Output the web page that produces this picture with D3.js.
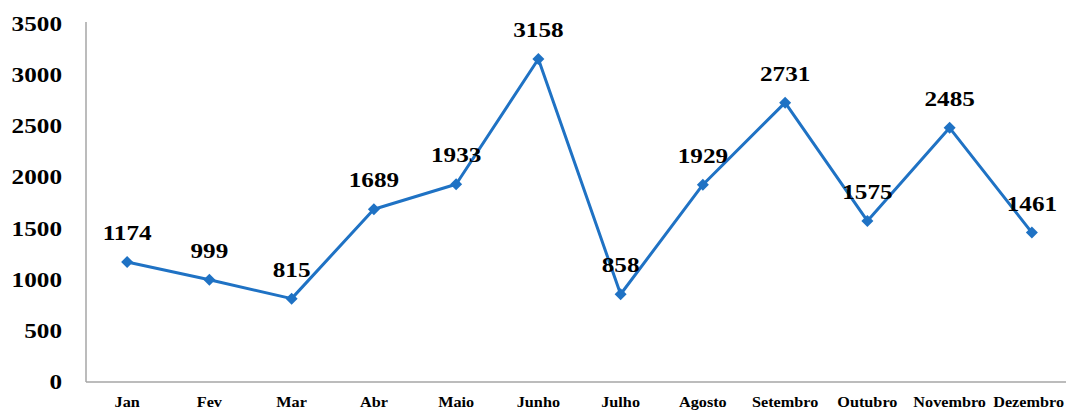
<!DOCTYPE html>
<html><head><meta charset="utf-8">
<script src="https://cdn.jsdelivr.net/npm/d3@7"></script>
<style>body{margin:0;background:#fff}svg{display:block}</style>
</head><body>
<svg id="c" width="1066" height="410"></svg>
<script>
const categories = ["Jan","Fev","Mar","Abr","Maio","Junho","Julho","Agosto","Setembro","Outubro","Novembro","Dezembro"];
const values = [1174,999,815,1689,1933,3158,858,1929,2731,1575,2485,1461];
const yTicks = [0,500,1000,1500,2000,2500,3000,3500];

(function(){
const svg = d3.select("#c");
const mLeft = 86, mRight = 1073, mTop = 24, mBottom = 382;
const x = d3.scaleBand().domain(categories).range([mLeft, mRight]);
const y = d3.scaleLinear().domain([0,3500]).range([mBottom, mTop]);
const font = "'Liberation Serif','Times New Roman',serif";
const blue = "#1f72c4";

svg.append("line").attr("x1",mLeft).attr("x2",mLeft).attr("y1",y(3500)-2).attr("y2",mBottom)
  .attr("stroke","#a6a6a6").attr("stroke-width",1.5);
svg.append("line").attr("x1",mLeft).attr("x2",1066).attr("y1",mBottom).attr("y2",mBottom)
  .attr("stroke","#a6a6a6").attr("stroke-width",1.5);

svg.append("g").selectAll("text").data(yTicks).join("text")
  .attr("transform", d => `translate(62,${y(d)+7}) scale(1.2,1)`)
  .attr("text-anchor","end").attr("font-family",font).attr("font-weight","bold")
  .attr("font-size",21).attr("fill","#000").text(d => d);

svg.append("g").selectAll("text").data(categories).join("text")
  .attr("transform", (d,i) => `translate(${i===categories.length-1 ? 1064 : x(d)+x.bandwidth()/2},${mBottom+25}) scale(1.08,1)`)
  .attr("text-anchor",(d,i)=> i===categories.length-1 ? "end" : "middle")
  .attr("font-family",font).attr("font-weight","bold")
  .attr("font-size",15).attr("fill","#000").text(d => d);

const cx = (d,i) => x(categories[i]) + x.bandwidth()/2;

svg.append("path").datum(values)
  .attr("d", d3.line().x((d,i)=>cx(d,i)).y(d=>y(d)))
  .attr("fill","none").attr("stroke",blue).attr("stroke-width",3).attr("stroke-linejoin","round");

svg.append("g").selectAll("path").data(values).join("path")
  .attr("d", d3.symbol(d3.symbolSquare, 72)())
  .attr("transform",(d,i)=>`translate(${cx(d,i)},${y(d)}) rotate(45)`)
  .attr("fill",blue);

svg.append("g").selectAll("text").data(values).join("text")
  .attr("transform",(d,i)=>`translate(${cx(d,i)},${y(d)-22}) scale(1.2,1)`)
  .attr("text-anchor","middle").attr("font-family",font).attr("font-weight","bold")
  .attr("font-size",21).attr("fill","#000").text(d=>d);
})();
</script>
</body></html>
